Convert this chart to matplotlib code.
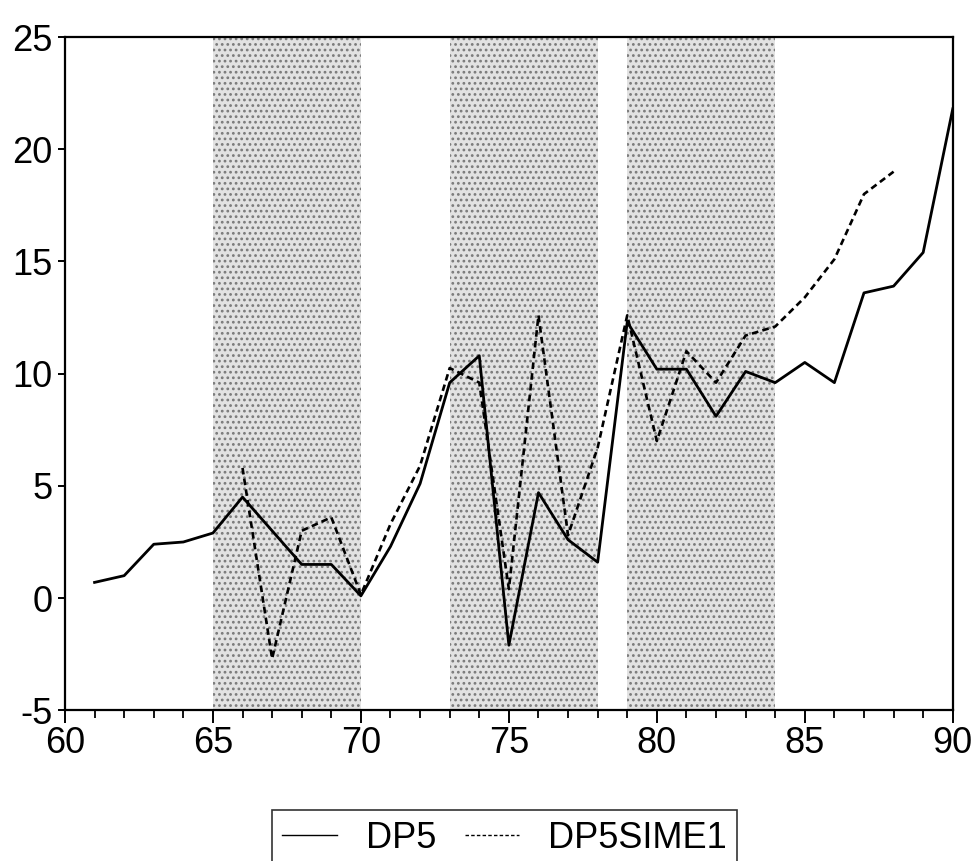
import matplotlib.pyplot as plt
from matplotlib.ticker import MultipleLocator

plt.rcParams['font.family'] = ['Liberation Sans', 'DejaVu Sans']
plt.rcParams['axes.unicode_minus'] = False
plt.rcParams['hatch.linewidth'] = 1.2

# years and series
years_dp5 = list(range(61, 91))
dp5 = [0.7, 1.0, 2.4, 2.5, 2.9, 4.5, 3.0, 1.5, 1.5, 0.1,
       2.3, 5.1, 9.6, 10.8, -2.1, 4.7, 2.6, 1.6, 12.3, 10.2,
       10.2, 8.1, 10.1, 9.6, 10.5, 9.6, 13.6, 13.9, 15.4, 21.8]

years_sim = list(range(66, 89))
dp5sime1 = [5.8, -2.7, 3.0, 3.6, 0.15, 3.3, 5.9, 10.25, 9.6, 0.4,
            12.6, 2.8, 6.7, 12.6, 7.0, 11.0, 9.6, 11.7, 12.1, 13.4,
            15.1, 18.0, 19.0]

# shaded periods
shade_start = [65, 73, 79]
shade_end = [70, 78, 84]

fig = plt.figure(figsize=(9.74, 8.61), dpi=100)
ax = fig.add_axes([0.0667, 0.175, 0.9115, 0.782])

for s, e in zip(shade_start, shade_end):
    ax.axvspan(s, e, facecolor='#e2e2e2', edgecolor='#7a7a7a',
               hatch='...', linewidth=0, zorder=0)

ax.plot(years_dp5, dp5, color='black', linewidth=2.0, label='DP5', zorder=3)
ax.plot(years_sim, dp5sime1, color='black', linewidth=1.9,
        linestyle=(0, (2.5, 1.6)), label='DP5SIME1', zorder=3)

ax.set_xlim(60, 90)
ax.set_ylim(-5, 25)
ax.xaxis.set_major_locator(MultipleLocator(5))
ax.xaxis.set_minor_locator(MultipleLocator(1))
ax.yaxis.set_major_locator(MultipleLocator(5))

ax.tick_params(axis='x', which='major', direction='out', length=9,
               width=1.4, labelsize=26, pad=2)
ax.tick_params(axis='x', which='minor', direction='out', length=5.5, width=1.3)
ax.tick_params(axis='y', direction='out', length=5, width=1.4,
               labelsize=26, pad=4)
for sp in ax.spines.values():
    sp.set_linewidth(1.6)

leg = fig.legend(loc='upper center', bbox_to_anchor=(0.518, 1 - 810 / 861),
                 ncol=2, fontsize=26, frameon=True, fancybox=False,
                 edgecolor='black', handlelength=1.5, handletextpad=0.8,
                 columnspacing=0.8, borderpad=0.3, borderaxespad=0)
leg.get_frame().set_linewidth(1.2)
for line in leg.get_lines():
    line.set_linewidth(1.0)

fig.savefig('out.png', dpi=100)
